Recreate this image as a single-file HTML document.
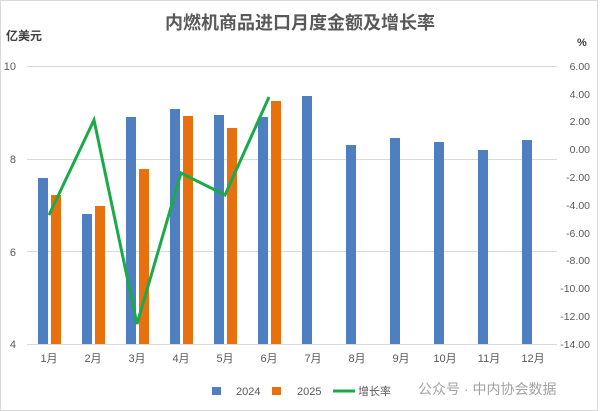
<!DOCTYPE html>
<html><head><meta charset="utf-8"><style>
body{margin:0;background:#fff}
svg{display:block;font-family:"Liberation Sans","Noto Sans CJK SC",sans-serif}
</style></head><body>
<svg width="600" height="411" viewBox="0 0 600 411" xmlns="http://www.w3.org/2000/svg">
<rect x="0.5" y="0.5" width="597" height="410" fill="#fff" stroke="#d9d9d9"/>
<text x="300" y="29" text-anchor="middle" font-size="18" font-weight="bold" fill="#595959">内燃机商品进口月度金额及增长率</text>
<text x="6" y="40" font-size="12" font-weight="bold" fill="#404040">亿美元</text>
<text x="577" y="46" font-size="11" font-weight="bold" fill="#404040">%</text>
<g stroke="#d9d9d9" stroke-width="1">
<line x1="27" y1="66.5" x2="557" y2="66.5"/>
<line x1="27" y1="159.5" x2="557" y2="159.5"/>
<line x1="27" y1="251.5" x2="557" y2="251.5"/>
<line x1="27" y1="344.5" x2="557" y2="344.5"/>
</g>
<g font-size="11" fill="#595959" text-anchor="end">
<text x="16" y="70">10</text><text x="16" y="163">8</text><text x="16" y="256">6</text><text x="16" y="348">4</text>
</g>
<g font-size="10.5" fill="#595959" text-anchor="end">
<text x="590" y="70">6.00</text><text x="590" y="98">4.00</text><text x="590" y="125">2.00</text><text x="590" y="153">0.00</text>
<text x="590" y="181">-2.00</text><text x="590" y="209">-4.00</text><text x="590" y="237">-6.00</text><text x="590" y="264">-8.00</text>
<text x="590" y="292">-10.00</text><text x="590" y="320">-12.00</text><text x="590" y="348">-14.00</text>
</g>
<g fill="#4e7fc1">
<rect x="38" y="178" width="10" height="166"/>
<rect x="82" y="214" width="10" height="130"/>
<rect x="126" y="117" width="10" height="227"/>
<rect x="170" y="109" width="10" height="235"/>
<rect x="214" y="115" width="10" height="229"/>
<rect x="258" y="117" width="10" height="227"/>
<rect x="302" y="96" width="10" height="248"/>
<rect x="346" y="145" width="10" height="199"/>
<rect x="390" y="138" width="10" height="206"/>
<rect x="434" y="142" width="10" height="202"/>
<rect x="478" y="150" width="10" height="194"/>
<rect x="522" y="140" width="10" height="204"/>
</g>
<g fill="#e8700f">
<rect x="51" y="195" width="10" height="149"/>
<rect x="95" y="206" width="10" height="138"/>
<rect x="139" y="169" width="10" height="175"/>
<rect x="183" y="116" width="10" height="228"/>
<rect x="227" y="128" width="10" height="216"/>
<rect x="271" y="101" width="10" height="243"/>
</g>
<polyline points="49,215 94,120 137,324 181,173 225,195 269,97" fill="none" stroke="#1aaa4a" stroke-width="3" stroke-linejoin="miter"/>
<g font-size="11" fill="#595959" text-anchor="middle">
<text x="49" y="362">1月</text><text x="93" y="362">2月</text><text x="137" y="362">3月</text><text x="181" y="362">4月</text>
<text x="225" y="362">5月</text><text x="269" y="362">6月</text><text x="313" y="362">7月</text><text x="357" y="362">8月</text>
<text x="401" y="362">9月</text><text x="445" y="362">10月</text><text x="489" y="362">11月</text><text x="533" y="362">12月</text>
</g>
<rect x="212" y="387" width="9" height="8" fill="#4e7fc1"/>
<text x="236" y="395" font-size="11" fill="#595959">2024</text>
<rect x="272" y="387" width="9" height="8" fill="#e8700f"/>
<text x="297" y="395" font-size="11" fill="#595959">2025</text>
<line x1="333" y1="391" x2="355" y2="391" stroke="#1aaa4a" stroke-width="3"/>
<text x="358" y="395" font-size="11" fill="#595959">增长率</text>
<text x="418" y="394" font-size="14" fill="#8c8c8c" opacity="0.8">公众号 · 中内协会数据</text>
</svg>
</body></html>
